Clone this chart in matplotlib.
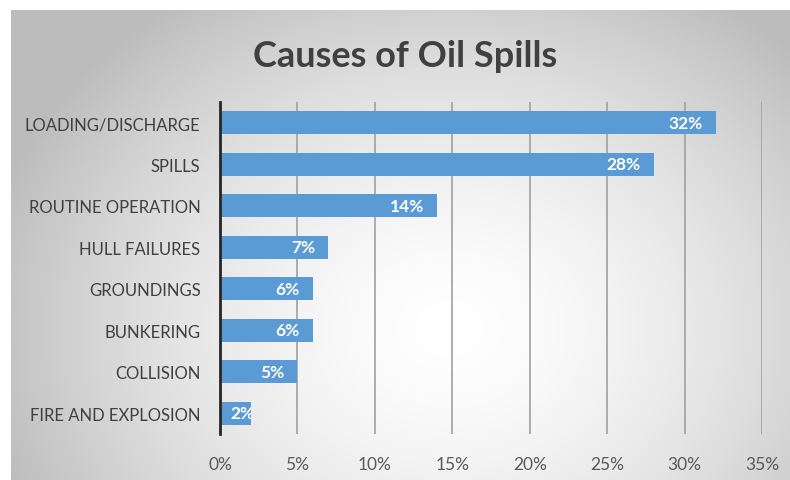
import numpy as np
import matplotlib
matplotlib.use("Agg")
import matplotlib.pyplot as plt

categories = ["LOADING/DISCHARGE", "SPILLS", "ROUTINE OPERATION", "HULL FAILURES",
              "GROUNDINGS", "BUNKERING", "COLLISION", "FIRE AND EXPLOSION"]
values = [32, 28, 14, 7, 6, 6, 5, 2]
xticks = [0, 5, 10, 15, 20, 25, 30, 35]
xtick_labels = ["0%", "5%", "10%", "15%", "20%", "25%", "30%", "35%"]
title = "Causes of Oil Spills"

W, H = 790, 481
fig = plt.figure(figsize=(W / 100, H / 100), dpi=100)
fig.patch.set_facecolor("white")

# background gradient panel
bg = fig.add_axes([11 / W, 0, 1 - 11 / W, 1 - 11 / H], zorder=-5)
bx = np.linspace(11, W, 400)
by = np.linspace(11, H, 300)
X, Y = np.meshgrid(bx, by)
r = np.sqrt(((X - 450) / 430) ** 2 + ((Y - 330) / 360) ** 2)
g = 1.0 - 0.22 * np.clip(r, 0, 1.3) ** 1.6
g = np.clip(g, 0.74, 1.0)
bg.imshow(np.dstack([g, g, g]), extent=[0, 1, 0, 1], aspect="auto", origin="upper")
bg.axis("off")

ax = fig.add_axes([220 / W, 1 - 435 / H, (762 - 220) / W, (435 - 103) / H])
ax.set_facecolor("none")

y = np.arange(len(categories))
bars = ax.barh(y, values, height=0.55, color="#5b9bd5", zorder=3)
ax.set_ylim(len(categories) - 0.5, -0.5)
ax.set_xlim(0, 35)
ax.set_xticks(xticks)
ax.set_xticklabels(xtick_labels)
ax.set_yticks(y)
ax.set_yticklabels(categories)

font = "Lato"
for lab in ax.get_yticklabels():
    lab.set_fontfamily(font)
    lab.set_fontsize(12)
    lab.set_color("#404040")
for lab in ax.get_xticklabels():
    lab.set_fontfamily(font)
    lab.set_fontsize(12.5)
    lab.set_color("#595959")
ax.tick_params(axis="y", length=0, pad=14)
ax.tick_params(axis="x", length=0, pad=16)

ax.grid(axis="x", color="#a0a0a0", linewidth=1.2, zorder=1)
for s in ["top", "right", "bottom"]:
    ax.spines[s].set_visible(False)
ax.spines["left"].set_color("#262626")
ax.spines["left"].set_linewidth(2)
ax.spines["left"].set_zorder(4)

for b, v in zip(bars, values):
    yc = b.get_y() + b.get_height() / 2
    if v >= 4:
        ax.annotate(f"{v}%", xy=(v, yc), xytext=(-13, 0), textcoords="offset pixels",
                    ha="right", va="center", color="white", fontweight="bold",
                    fontsize=12.5, fontfamily=font, zorder=5)
    else:
        t = ax.annotate(f"{v}%", xy=(0, yc), xytext=(10, 0), textcoords="offset pixels",
                        ha="left", va="center", color="white", fontweight="bold",
                        fontsize=12.5, fontfamily=font, zorder=5)
        t.set_clip_path(b)

fig.text(405 / W, 1 - 57 / H, title, ha="center", va="center", fontsize=26,
         fontweight="bold", fontfamily=font, color="#404040")

fig.savefig("out.png", dpi=100)
